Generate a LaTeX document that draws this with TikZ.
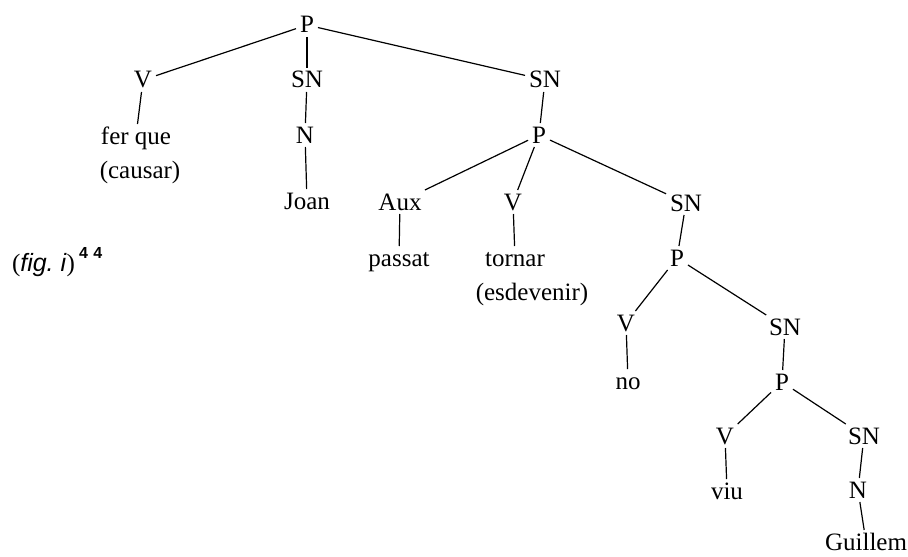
\documentclass[tikz,border=0pt]{standalone}
\usepackage{fontspec}
\setmainfont{Liberation Serif}
\setsansfont{Liberation Sans}
\begin{document}
\begin{tikzpicture}[x=0.5pt, y=-0.5pt, every node/.style={font=\fontsize{12.5}{14}\selectfont, inner sep=1.8pt, text height=8pt, text depth=0pt}, branch/.style={line width=0.6pt}]
	\useasboundingbox (0,0) rectangle (908,556);
	\node (p0) at (307,25) {P};
	\node (v1) at (143,80) {V};
	\node (sn1) at (307,80) {SN};
	\node (sn2) at (545,80) {SN};
	\node (ferque) at (136,136) {fer que};
	\node (causar) at (140,170) {(causar)};
	\node (n1) at (305,135) {N};
	\node (joan) at (307,201) {Joan};
	\node (p2) at (539,135) {P};
	\node (aux) at (400,202) {Aux};
	\node (v2) at (513,202) {V};
	\node (sn3) at (686,203) {SN};
	\node (passat) at (399,258) {passat};
	\node (tornar) at (515,258) {tornar};
	\node (esdevenir) at (532,292) {(esdevenir)};
	\node (p3) at (677,258) {P};
	\node (v3) at (626,323) {V};
	\node (sn4) at (785,327) {SN};
	\node (no) at (628,381) {no};
	\node (p4) at (782,382) {P};
	\node (v5) at (725,436) {V};
	\node (sn5) at (864,436) {SN};
	\node (viu) at (727,491) {viu};
	\node (n5) at (858,490) {N};
	\node (guillem) at (866,542) {Guillem};
	\node [anchor=west] (fig) at (8,263) {(\textsf{\itshape fig.\ i})\,\raisebox{1.1ex}{\textsf{\bfseries\fontsize{8}{9}\selectfont 4\,\,4}}};
	\draw [branch] (p0) -- (v1);
	\draw [branch] (p0) -- (sn1);
	\draw [branch] (p0) -- (sn2);
	\draw [branch] (v1) -- (ferque);
	\draw [branch] (sn1) -- (n1);
	\draw [branch] (n1) -- (joan);
	\draw [branch] (sn2) -- (p2);
	\draw [branch] (p2) -- (aux);
	\draw [branch] (p2) -- (v2);
	\draw [branch] (p2) -- (sn3);
	\draw [branch] (aux) -- (passat);
	\draw [branch] (v2) -- (tornar);
	\draw [branch] (sn3) -- (p3);
	\draw [branch] (p3) -- (v3);
	\draw [branch] (p3) -- (sn4);
	\draw [branch] (v3) -- (no);
	\draw [branch] (sn4) -- (p4);
	\draw [branch] (p4) -- (v5);
	\draw [branch] (p4) -- (sn5);
	\draw [branch] (v5) -- (viu);
	\draw [branch] (sn5) -- (n5);
	\draw [branch] (n5) -- (guillem);
\end{tikzpicture}
\end{document}
